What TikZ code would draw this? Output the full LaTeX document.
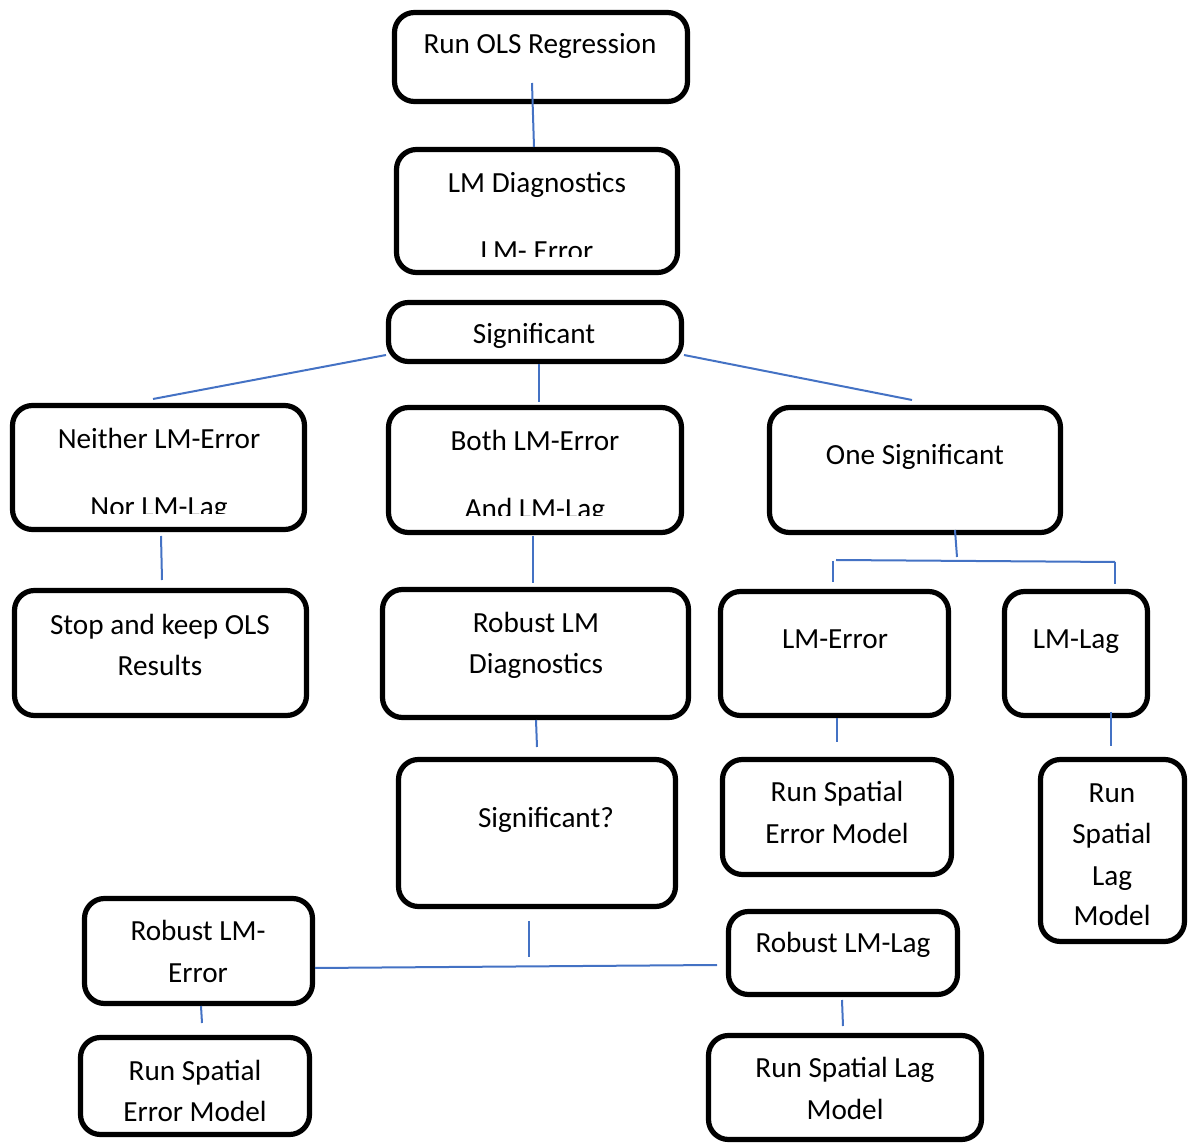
\documentclass[tikz,border=0pt]{standalone}
\usepackage{fontspec}
\setmainfont{Carlito}
\begin{document}
\begin{tikzpicture}[x=0.5pt,y=-0.5pt,
  box/.style={draw=black, line width=2.6pt, rounded corners=10pt, inner sep=0pt},
  txt/.style={anchor=base, inner sep=0pt, font=\fontsize{14.6}{17}\selectfont},
  conn/.style={draw={rgb,255:red,68;green,114;blue,196}, line width=1pt}]
\newcommand\mkbox[5]{\node[box, minimum width={(#4-#2-5)*0.5pt}, minimum height={(#5-#3-5)*0.5pt}] (#1) at ({(#2+#4)/2},{(#3+#5)/2}) {};}
\useasboundingbox (0,0) rectangle (1196,1144);
% boxes
\mkbox{b1}{392}{10}{690}{104}
\mkbox{b2}{394}{147}{680}{275}
\mkbox{b3}{386}{300}{684}{364}
\mkbox{b4}{10}{403}{307}{532}
\mkbox{b5}{386}{405}{684}{535}
\mkbox{b6}{767}{405}{1063}{535}
\mkbox{b7}{12}{588}{309}{718}
\mkbox{b8}{380}{587}{691}{720}
\mkbox{b9}{718}{589}{951}{718}
\mkbox{b10}{1002}{589}{1150}{718}
\mkbox{b11}{396}{757}{678}{909}
\mkbox{b12}{720}{757}{954}{877}
\mkbox{b13}{1038}{757}{1187}{944}
\mkbox{b14}{82}{896}{315}{1006}
\mkbox{b15}{726}{909}{960}{997}
\mkbox{b16}{78}{1035}{312}{1137}
\mkbox{b17}{706}{1033}{984}{1142}
% texts
\node[txt] (t1) at (540,54) {Run OLS Regression};
\node[txt] (t2a) at (537,193) {LM Diagnostics};
\begin{scope}
\clip (400,150) rectangle (675,257);
\node[txt] (t2b) at (537,261) {LM- Error};
\end{scope}
\node[txt] (t3) at (534,344) {Significant};
\node[txt] (t4a) at (159,449) {Neither LM-Error};
\begin{scope}
\clip (15,405) rectangle (300,514);
\node[txt] (t4b) at (159,517) {Nor LM-Lag};
\end{scope}
\node[txt] (t5a) at (535,451) {Both LM-Error};
\begin{scope}
\clip (390,408) rectangle (680,516);
\node[txt] (t5b) at (535,519) {And LM-Lag};
\end{scope}
\node[txt] (t6) at (915,465) {One Significant};
\node[txt] (t7a) at (160,635) {Stop and keep OLS};
\node[txt] (t7b) at (160,676) {Results};
\node[txt] (t8a) at (536,633) {Robust LM};
\node[txt] (t8b) at (536,674) {Diagnostics};
\node[txt] (t9) at (835,649) {LM-Error};
\node[txt] (t10) at (1076,649) {LM-Lag};
\node[txt] (t11) at (546,828) {Significant?};
\node[txt] (t12a) at (837,802) {Run Spatial};
\node[txt] (t12b) at (837,844) {Error Model};
\node[txt] (t13a) at (1112,803) {Run};
\node[txt] (t13b) at (1112,844) {Spatial};
\node[txt] (t13c) at (1112,885) {Lag};
\node[txt] (t13d) at (1112,926) {Model};
\node[txt] (t14a) at (198,941) {Robust LM-};
\node[txt] (t14b) at (198,983) {Error};
\node[txt] (t15) at (843,953) {Robust LM-Lag};
\node[txt] (t16a) at (195,1080) {Run Spatial};
\node[txt] (t16b) at (195,1121) {Error Model};
\node[txt] (t17a) at (845,1078) {Run Spatial Lag};
\node[txt] (t17b) at (845,1119) {Model};
% connector end points
\coordinate (c1a) at (532,83);
\coordinate (c1b) at (534,147);
\coordinate (c2a) at (386,355);
\coordinate (c2b) at (153,399);
\coordinate (c3a) at (539,364);
\coordinate (c3b) at (539,402);
\coordinate (c4a) at (684,355);
\coordinate (c4b) at (912,400);
\coordinate (c5a) at (161,536);
\coordinate (c5b) at (162,580);
\coordinate (c6a) at (533,536);
\coordinate (c6b) at (533,583);
\coordinate (c7a) at (955,530);
\coordinate (c7b) at (957,557);
\coordinate (c8a) at (836,560);
\coordinate (c8b) at (1115,562);
\coordinate (c9a) at (833,561);
\coordinate (c9b) at (833,582);
\coordinate (c10a) at (1115,562);
\coordinate (c10b) at (1115,584);
\coordinate (c11a) at (536,720);
\coordinate (c11b) at (537,747);
\coordinate (c12a) at (837,718);
\coordinate (c12b) at (837,742);
\coordinate (c13a) at (1111,712);
\coordinate (c13b) at (1111,746);
\coordinate (c14a) at (529,921);
\coordinate (c14b) at (529,957);
\coordinate (c15a) at (315,968);
\coordinate (c15b) at (717,965);
\coordinate (c16a) at (201,1006);
\coordinate (c16b) at (202,1023);
\coordinate (c17a) at (842,1000);
\coordinate (c17b) at (843,1026);
\foreach \k in {1,...,17} {\draw[conn] (c\k a) -- (c\k b);}
\end{tikzpicture}
\end{document}
